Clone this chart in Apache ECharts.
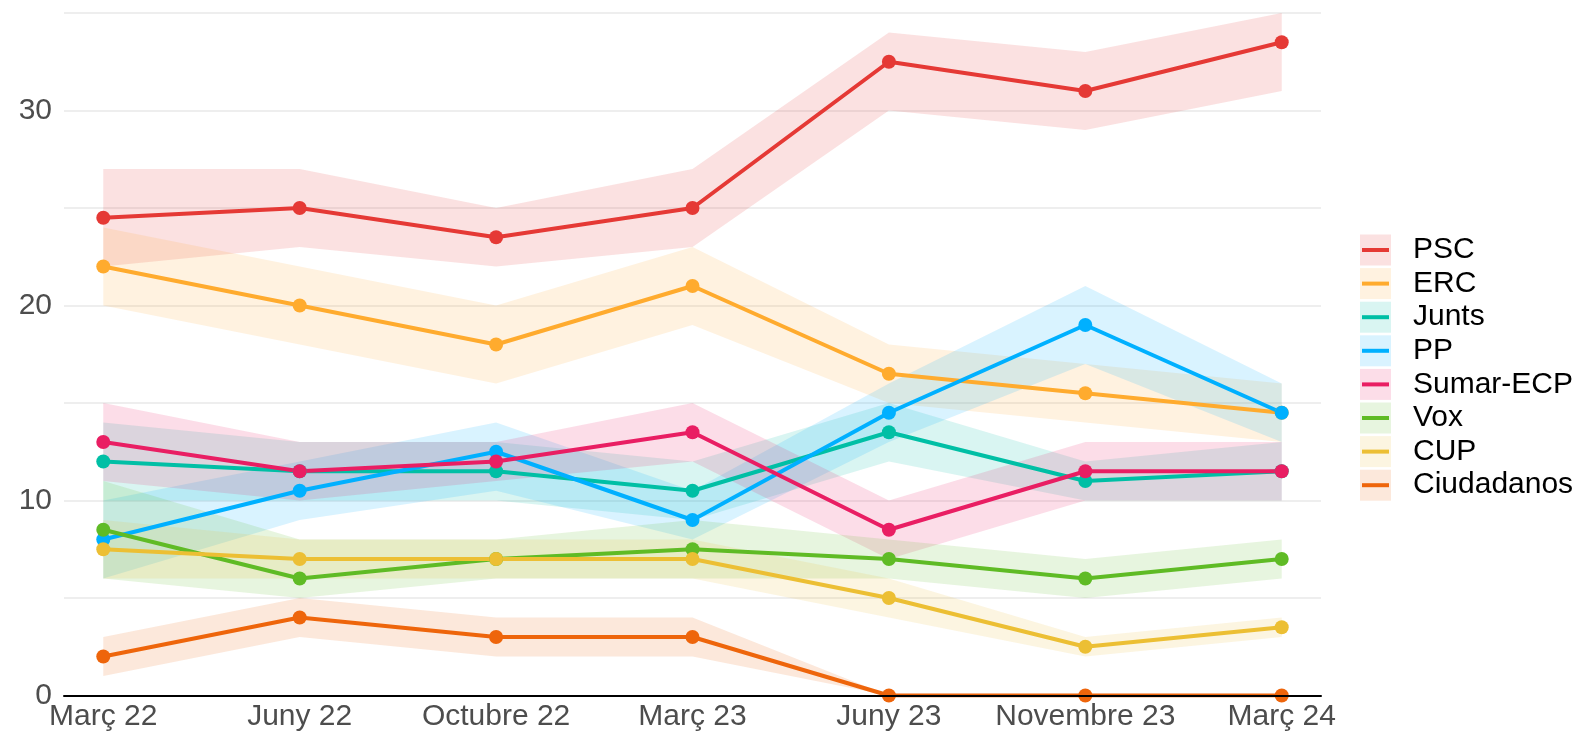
<!DOCTYPE html>
<html>
<head>
<meta charset="utf-8">
<script src="https://cdn.jsdelivr.net/npm/echarts@6/dist/echarts.min.js"></script>
<style>
  html, body { margin: 0; padding: 0; background: #fff; }
  #chart { width: 1579px; height: 734px; }
</style>
</head>
<body>
<div id="chart"></div>
<script>
// ── Data ─────────────────────────────────────────────────────────────────────
const categories = ["Març 22", "Juny 22", "Octubre 22", "Març 23", "Juny 23", "Novembre 23", "Març 24"];
const yTickLabels = [0, 10, 20, 30];

const parties = ["PSC", "ERC", "Junts", "PP", "Sumar-ECP", "Vox", "CUP", "Ciudadanos"];
const partyColors = ["#e53935", "#ffab2e", "#00bfa5", "#00b0ff", "#e91e63", "#5fbb25", "#ecbf34", "#ee650b"];

const pscValues = [24.5, 25, 23.5, 25, 32.5, 31, 33.5];
const pscLow = [22, 23, 22, 23, 30, 29, 31];
const pscHigh = [27, 27, 25, 27, 34, 33, 35];

const ercValues = [22, 20, 18, 21, 16.5, 15.5, 14.5];
const ercLow = [20, 18, 16, 19, 15, 14, 13];
const ercHigh = [24, 22, 20, 23, 18, 17, 16];

const juntsValues = [12, 11.5, 11.5, 10.5, 13.5, 11, 11.5];
const juntsLow = [10, 10, 10, 9, 12, 10, 10];
const juntsHigh = [14, 13, 13, 12, 15, 12, 13];

const ppValues = [8, 10.5, 12.5, 9, 14.5, 19, 14.5];
const ppLow = [6, 9, 10.5, 8, 13, 17, 13];
const ppHigh = [10, 12, 14, 10.5, 16, 21, 16];

const sumarValues = [13, 11.5, 12, 13.5, 8.5, 11.5, 11.5];
const sumarLow = [11, 10, 11, 12, 7, 10, 10];
const sumarHigh = [15, 13, 13, 15, 10, 13, 13];

const voxValues = [8.5, 6, 7, 7.5, 7, 6, 7];
const voxLow = [6, 5, 6, 6, 6, 5, 6];
const voxHigh = [11, 8, 8, 9, 8, 7, 8];

const cupValues = [7.5, 7, 7, 7, 5, 2.5, 3.5];
const cupLow = [6, 6, 6, 6, 4, 2, 3];
const cupHigh = [9, 8, 8, 8, 6, 3, 4];

const csValues = [2, 4, 3, 3, 0, 0, 0];
const csLow = [1, 3, 2, 2, 0, 0, 0];
const csHigh = [3, 5, 4, 4, 0, 0, 0];

const values = [pscValues, ercValues, juntsValues, ppValues, sumarValues, voxValues, cupValues, csValues];
const lows = [pscLow, ercLow, juntsLow, ppLow, sumarLow, voxLow, cupLow, csLow];
const highs = [pscHigh, ercHigh, juntsHigh, ppHigh, sumarHigh, voxHigh, cupHigh, csHigh];

// ── Helpers ──────────────────────────────────────────────────────────────────
function withAlpha(hex, a) {
  const n = parseInt(hex.slice(1), 16);
  return `rgba(${(n >> 16) & 255},${(n >> 8) & 255},${n & 255},${a})`;
}
const bandAlpha = 0.15;
const font = "'Liberation Sans', Arial, sans-serif";
const fontSize = 30;

// uncertainty bands: one polygon per party (upper edge, then lower edge back)
const bandSeries = parties.map((p, i) => ({
  name: p + "_band",
  type: "custom",
  silent: true,
  z: 1,
  data: lows[i].map((v, j) => [j, v, highs[i][j]]),
  encode: { x: 0, y: [1, 2] },
  renderItem: (params, api) => {
    if (params.dataIndex !== 0) return null;
    const pts = [];
    for (let j = 0; j < highs[i].length; j++) pts.push(api.coord([j, highs[i][j]]));
    for (let j = lows[i].length - 1; j >= 0; j--) pts.push(api.coord([j, lows[i][j]]));
    return {
      type: "polygon",
      shape: { points: pts },
      style: { fill: withAlpha(partyColors[i], bandAlpha) },
    };
  },
}));

const lineSeries = parties.map((p, i) => ({
  name: p,
  type: "line",
  data: values[i].map((v, j) => [j, v]),
  color: partyColors[i],
  symbol: "circle",
  symbolSize: 14,
  lineStyle: { width: 4, color: partyColors[i] },
  itemStyle: { color: partyColors[i], borderWidth: 0 },
  z: 3,
}));

const legendCommon = {
  orient: "vertical",
  top: 229.5,
  itemGap: 2.6,
  icon: "rect",
  selectedMode: false,
  itemStyle: { borderWidth: 0 },
  textStyle: { fontSize: fontSize, lineHeight: 31, fontFamily: font, padding: [0, 0, 0, 17] },
};

// ── Chart ────────────────────────────────────────────────────────────────────
const chart = echarts.init(document.getElementById("chart"));
chart.setOption({
  animation: false,
  backgroundColor: "#fff",
  grid: { left: 64, right: 258, top: 13, bottom: 38.5, containLabel: false },
  legend: [
    Object.assign({}, legendCommon, {
      left: 1355,
      itemWidth: 31,
      itemHeight: 31,
      textStyle: Object.assign({}, legendCommon.textStyle, { color: "#000" }),
      data: parties.map((p, i) => ({
        name: p,
        itemStyle: { color: withAlpha(partyColors[i], bandAlpha), borderWidth: 0 },
      })),
    }),
    Object.assign({}, legendCommon, {
      left: 1357,
      itemWidth: 27,
      itemHeight: 4,
      textStyle: Object.assign({}, legendCommon.textStyle, { color: "rgba(0,0,0,0)" }),
      data: parties.map((p, i) => ({
        name: p,
        itemStyle: { color: partyColors[i], borderWidth: 0 },
      })),
    }),
  ],
  xAxis: {
    type: "value",
    min: -0.2,
    max: 6.2,
    splitNumber: 6,
    z: 10,
    axisLine: { show: true, onZero: false, lineStyle: { color: "#000", width: 2 } },
    axisTick: { show: false },
    splitLine: { show: false },
    axisLabel: {
      margin: 6,
      fontSize: fontSize,
      fontFamily: font,
      color: "#4d4d4d",
      showMinLabel: true,
      showMaxLabel: true,
      formatter: (v) => (Number.isInteger(v) && categories[v] !== undefined ? categories[v] : ""),
    },
  },
  yAxis: {
    type: "value",
    min: 0,
    max: 35,
    interval: 5,
    axisLine: { show: false },
    axisTick: { show: false },
    splitLine: { show: true, lineStyle: { color: "#e8e8e8", width: 1.5 } },
    axisLabel: {
      margin: 12,
      fontSize: fontSize,
      fontFamily: font,
      color: "#4d4d4d",
      formatter: (v) => (yTickLabels.includes(v) ? String(v) : ""),
    },
  },
  series: bandSeries.concat(lineSeries),
});

window.addEventListener("resize", () => chart.resize());
</script>
</body>
</html>
